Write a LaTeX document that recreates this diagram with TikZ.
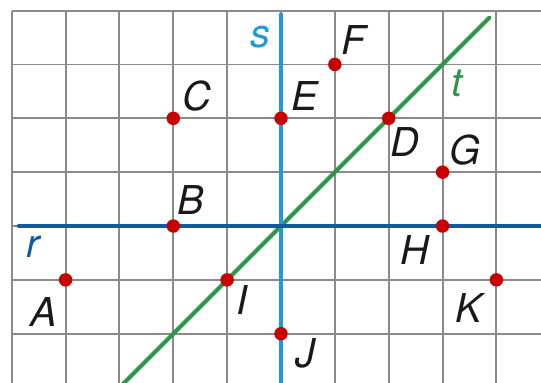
\documentclass[tikz,border=0pt]{standalone}
\usepackage{fontspec}
\setmainfont{TeX Gyre Heros}
\begin{document}
\begin{tikzpicture}[x=1cm,y=1cm,
  gridline/.style={draw=black!46,line width=1pt},
  pt/.style={circle,fill=red!78!black,inner sep=0pt,minimum size=0.25cm},
  lbl/.style={font=\fontsize{21}{25}\selectfont\itshape,text=black!90,inner sep=0pt},
  lineS/.style={draw={rgb,255:red,30;green,155;blue,215},line width=2.1pt},
  lineR/.style={draw={rgb,255:red,16;green,90;blue,160},line width=2.1pt,line cap=round},
  lineT/.style={draw={rgb,255:red,46;green,150;blue,72},line width=2.1pt,line cap=round}]
\useasboundingbox (-5.218,-2.915) rectangle (4.828,4.197);
\fill[white] (-5.218,-2.915) rectangle (4.828,4.197);
% grid
\foreach \x in {-5,...,4} \draw[gridline] (\x,4) -- (\x,-2.915);
\foreach \y in {-2,...,4} \draw[gridline] (-5,\y) -- (4.828,\y);
% lines
\coordinate (t1) at (-2.95,-2.95);
\coordinate (t2) at (3.87,3.87);
\coordinate (s1) at (0,-2.915);
\coordinate (s2) at (0,3.95);
\coordinate (r1) at (-4.87,0);
\coordinate (r2) at (4.85,0);
\draw[lineT] (t1) -- (t2);
\draw[lineS] (s1) -- (s2);
\draw[lineR] (r1) -- (r2);
% points
\node[pt] (A) at (-4,-1) {};
\node[pt] (B) at (-2,0) {};
\node[pt] (C) at (-2,2) {};
\node[pt] (D) at (2,2) {};
\node[pt] (E) at (0,2) {};
\node[pt] (F) at (1,3) {};
\node[pt] (G) at (3,1) {};
\node[pt] (H) at (3,0) {};
\node[pt] (I) at (-1,-1) {};
\node[pt] (J) at (0,-2) {};
\node[pt] (K) at (4,-1) {};
% labels
\node[lbl,text={rgb,255:red,30;green,155;blue,215}] (ls) at (-0.39,3.5) {s};
\node[lbl,text={rgb,255:red,46;green,150;blue,72}] (lt) at (3.27,2.64) {t};
\node[lbl,text={rgb,255:red,16;green,90;blue,160}] (lr) at (-4.61,-0.39) {r};
\node[lbl] (lA) at (-4.4,-1.6) {A};
\node[lbl] (lB) at (-1.67,0.48) {B};
\node[lbl] (lC) at (-1.56,2.42) {C};
\node[lbl] (lD) at (2.3,1.56) {D};
\node[lbl] (lE) at (0.45,2.42) {E};
\node[lbl] (lF) at (1.34,3.46) {F};
\node[lbl] (lG) at (3.42,1.41) {G};
\node[lbl] (lH) at (2.49,-0.45) {H};
\node[lbl] (lI) at (-0.72,-1.38) {I};
\node[lbl] (lJ) at (0.46,-2.36) {J};
\node[lbl] (lK) at (3.48,-1.52) {K};
\end{tikzpicture}
\end{document}
